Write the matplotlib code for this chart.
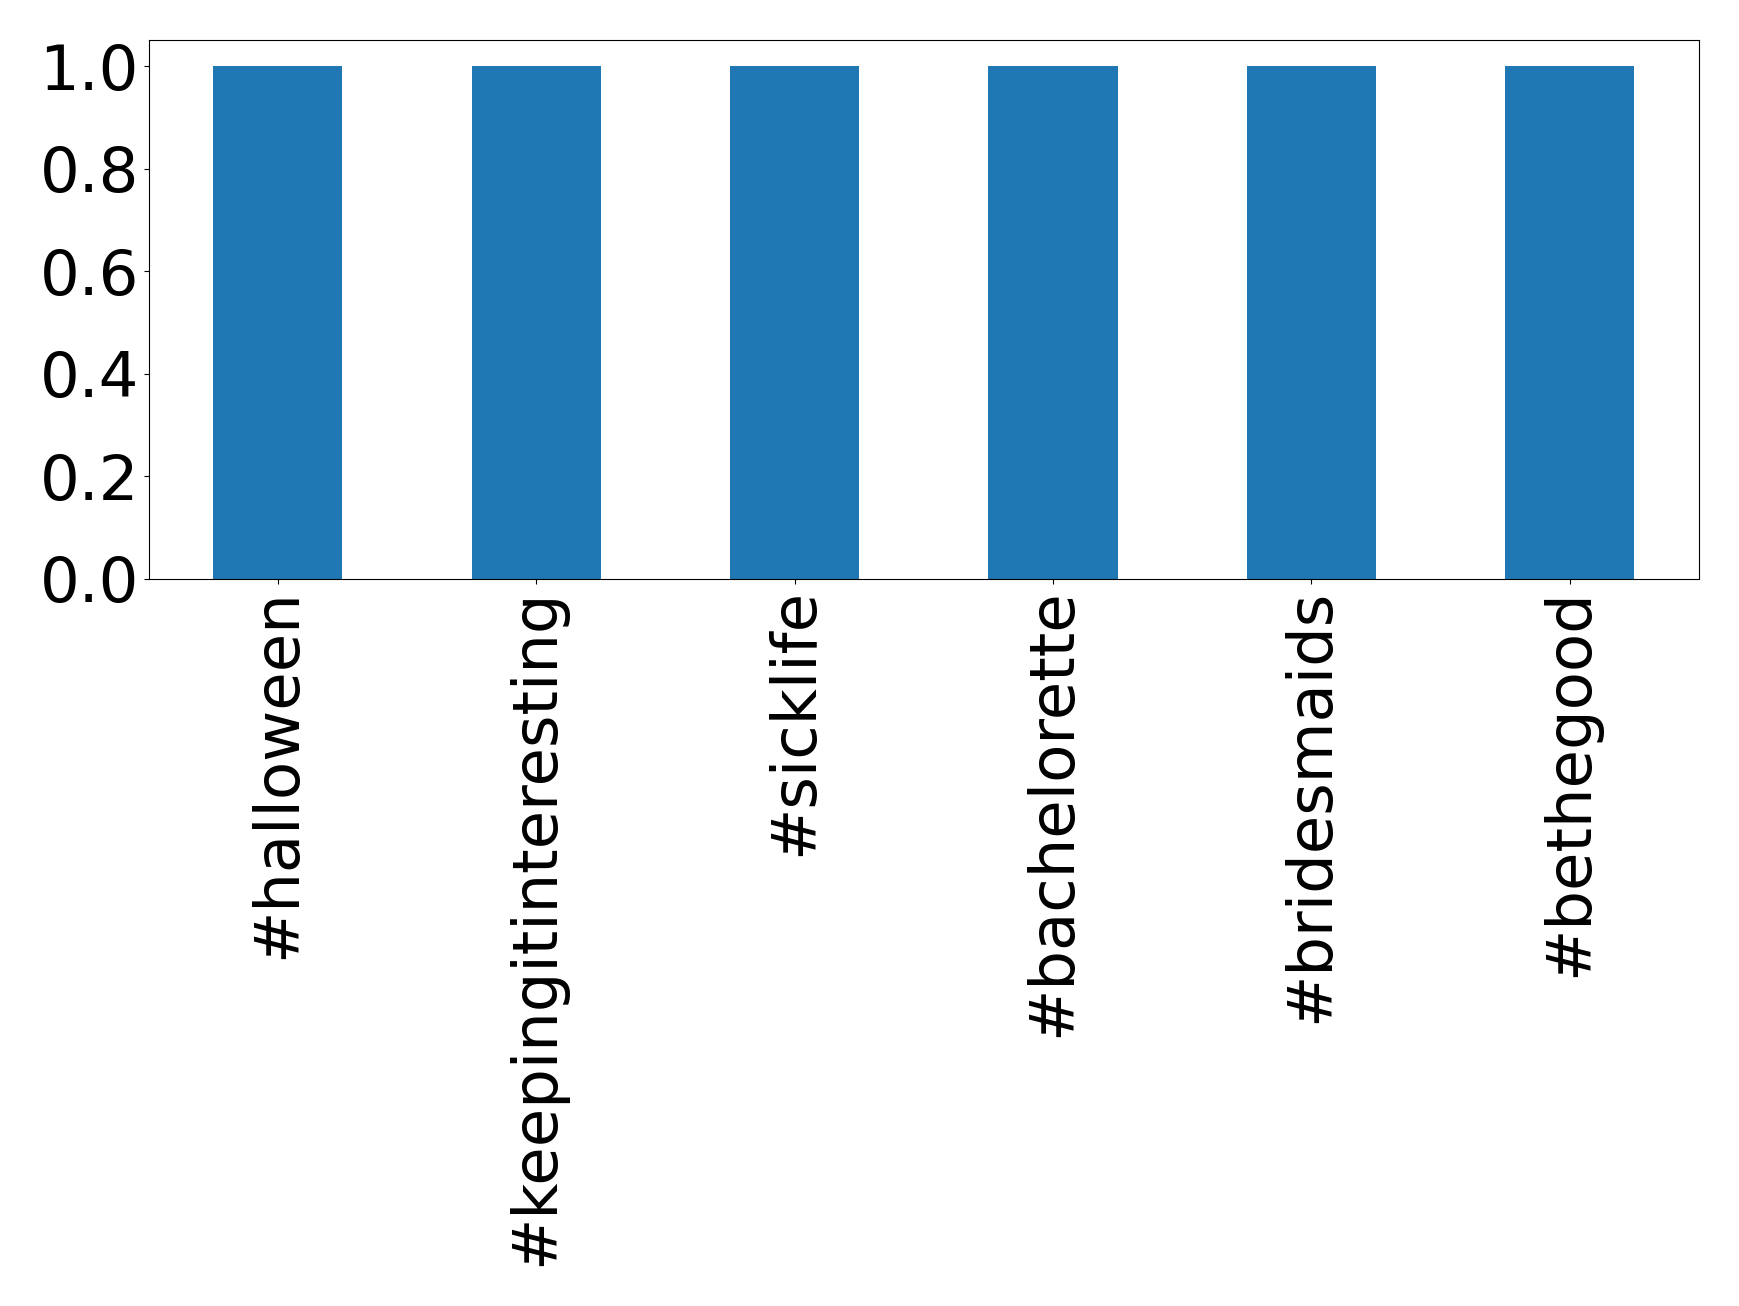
import matplotlib
matplotlib.use("Agg")
import matplotlib.pyplot as plt
import pandas as pd

# hashtag counts
hashtags = ['#halloween', '#keepingitinteresting', '#sicklife',
            '#bachelorette', '#bridesmaids', '#bethegood']
counts = [1, 1, 1, 1, 1, 1]
yticks = [0.0, 0.2, 0.4, 0.6, 0.8, 1.0]

series = pd.Series(counts, index=hashtags)

fig = plt.figure(figsize=(17.39, 13.06), dpi=100)
ax = fig.add_axes([0.0855, 0.557, 0.8915, 0.412])
series.plot(kind='bar', ax=ax, color='#1f77b4')
ax.set_yticks(yticks)
ax.tick_params(axis='both', labelsize=45)

fig.savefig('out.png', dpi=100)
